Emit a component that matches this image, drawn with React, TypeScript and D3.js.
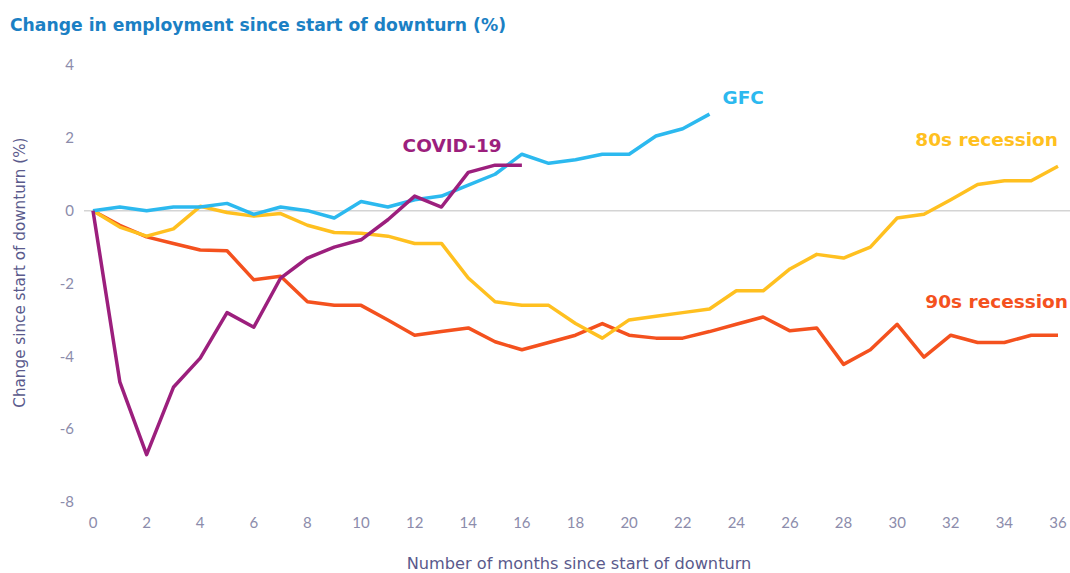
import React from 'react';
import * as d3 from 'd3';

// months since start of downturn
const months = d3.range(0, 37);

// change in employment (%)
const gfc = [0, 0.1, 0, 0.1, 0.1, 0.2, -0.1, 0.1, 0, -0.2, 0.25, 0.1, 0.3, 0.4, 0.7, 1.0, 1.55, 1.3, 1.4, 1.55, 1.55, 2.05, 2.25, 2.65];
const covid = [0, -4.7, -6.7, -4.85, -4.05, -2.8, -3.2, -1.85, -1.3, -1.0, -0.8, -0.25, 0.4, 0.1, 1.05, 1.25, 1.25];
const recession80s = [0, -0.45, -0.7, -0.5, 0.12, -0.05, -0.15, -0.08, -0.4, -0.6, -0.62, -0.7, -0.9, -0.9, -1.85, -2.5, -2.6, -2.6, -3.1, -3.5, -3.0, -2.9, -2.8, -2.7, -2.2, -2.2, -1.6, -1.2, -1.3, -1.0, -0.2, -0.1, 0.3, 0.72, 0.82, 0.82, 1.22];
const recession90s = [0, -0.4, -0.72, -0.9, -1.08, -1.1, -1.9, -1.8, -2.5, -2.6, -2.6, -3.0, -3.42, -3.32, -3.22, -3.6, -3.82, -3.62, -3.42, -3.1, -3.42, -3.5, -3.5, -3.32, -3.12, -2.92, -3.3, -3.22, -4.22, -3.82, -3.12, -4.02, -3.42, -3.62, -3.62, -3.42, -3.42];

const yTicks = [4, 2, 0, -2, -4, -6, -8];
const xTicks = d3.range(0, 37, 2);

const series = [
  { name: '90s recession', values: recession90s, color: '#f4511e' },
  { name: '80s recession', values: recession80s, color: '#ffc020' },
  { name: 'GFC', values: gfc, color: '#2cb9ef' },
  { name: 'COVID-19', values: covid, color: '#9c1f7d' },
];

const width = 1070;
const height = 573;

export default function App() {
  const x = d3.scaleLinear().domain([0, 36]).range([93, 1058]);
  const y = d3.scaleLinear().domain([-8, 4]).range([502, 65]);

  const line = d3
    .line<number>()
    .x((d, i) => x(months[i]))
    .y((d) => y(d));

  const font = '"DejaVu Sans", "Open Sans", sans-serif';
  const axisColor = '#8c8cab';
  const titleColor = '#5a5a8c';

  return (
    <svg
      width={width}
      height={height}
      style={{ position: 'absolute', left: 0, top: 0, background: '#fff' }}
      fontFamily={font}
    >
      <text x={10} y={31} fill="#1b80c4" fontSize={17.2} fontWeight={700}>
        Change in employment since start of downturn (%)
      </text>

      {/* y axis */}
      {yTicks.map((t) => (
        <text key={t} x={74} y={y(t)} dy="0.35em" textAnchor="end" fill={axisColor} fontSize={15} fontFamily="Lato, sans-serif">
          {t}
        </text>
      ))}
      <text
        transform={`translate(25,${y(-1.7)}) rotate(-90)`}
        textAnchor="middle"
        fill={titleColor}
        fontSize={15.2}
      >
        Change since start of downturn (%)
      </text>

      {/* x axis */}
      {xTicks.map((t) => (
        <text key={t} x={x(t)} y={528} textAnchor="middle" fill={axisColor} fontSize={15} fontFamily="Lato, sans-serif">
          {t}
        </text>
      ))}
      <text x={579} y={569} textAnchor="middle" fill={titleColor} fontSize={16.2}>
        Number of months since start of downturn
      </text>

      {/* zero line */}
      <line x1={84} x2={1070} y1={y(0)} y2={y(0)} stroke="#d4d4d4" strokeWidth={1.5} />

      {series.map((s) => (
        <path
          key={s.name}
          d={line(s.values) || ''}
          fill="none"
          stroke={s.color}
          strokeWidth={3.5}
          strokeLinejoin="round"
        />
      ))}

      {/* series labels */}
      <text x={x(23) + 13} y={y(3.1)} dy="0.35em" fill="#2cb9ef" fontSize={18.5} fontWeight={700}>
        GFC
      </text>
      <text x={x(13.4)} y={y(1.8)} dy="0.35em" textAnchor="middle" fill="#9c1f7d" fontSize={18.5} fontWeight={700}>
        COVID-19
      </text>
      <text x={x(36)} y={y(1.95)} dy="0.35em" textAnchor="end" fill="#ffc020" fontSize={18.5} fontWeight={700}>
        80s recession
      </text>
      <text x={x(36) + 10} y={y(-2.5)} dy="0.35em" textAnchor="end" fill="#f4511e" fontSize={18.5} fontWeight={700}>
        90s recession
      </text>
    </svg>
  );
}
